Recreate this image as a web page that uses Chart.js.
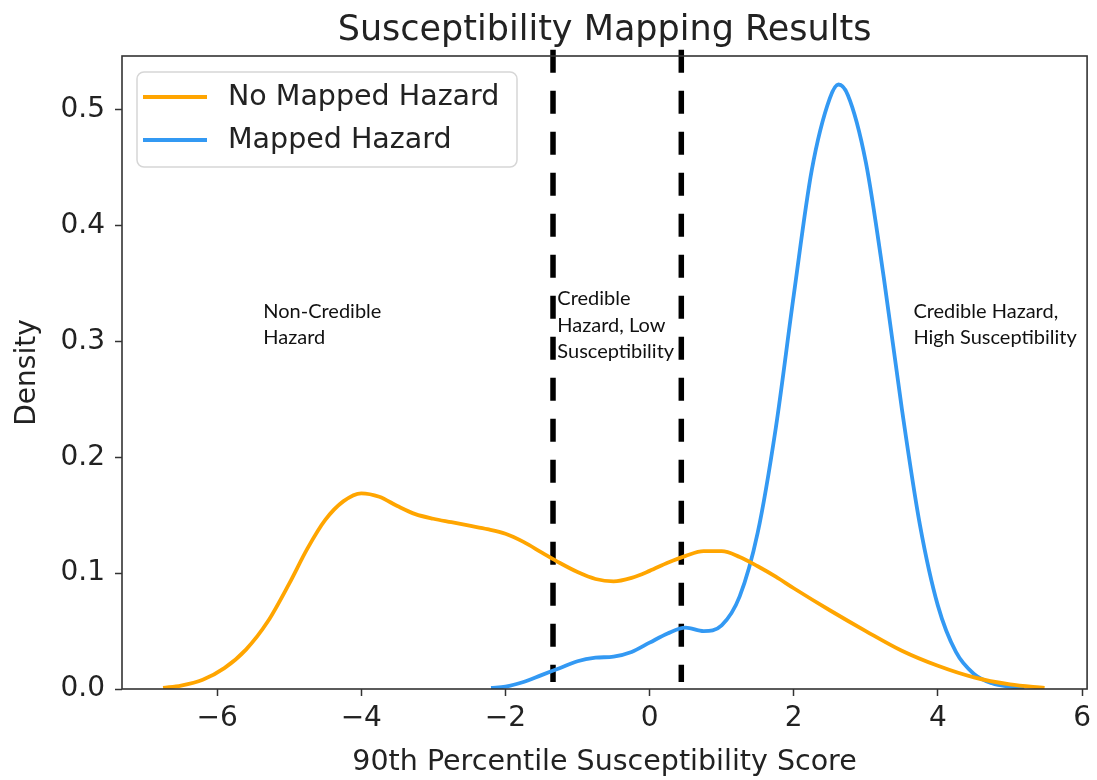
<!DOCTYPE html>
<html>
<head>
<meta charset="utf-8">
<title>Susceptibility Mapping Results</title>
<script src="https://cdn.jsdelivr.net/npm/chart.js@4/dist/chart.umd.min.js"></script>
<style>
  html, body { margin: 0; padding: 0; background: #fff; }
  canvas { display: block; }
</style>
</head>
<body>
<canvas id="kde" width="1097" height="780"></canvas>
<script>
// Density curves of the 90th percentile susceptibility score
const noHazardX = [-6.75, -6.5, -6.2, -5.9, -5.6, -5.3, -5.0, -4.75, -4.5, -4.25, -4.0, -3.75, -3.5, -3.25, -3.0, -2.75, -2.5, -2.25, -2.0, -1.75, -1.5, -1.25, -1.0, -0.75, -0.5, -0.25, 0.0, 0.25, 0.5, 0.75, 1.0, 1.25, 1.5, 1.75, 2.0, 2.5, 3.0, 3.5, 4.0, 4.5, 5.0, 5.48];
const noHazardY = [0.001, 0.003, 0.008, 0.018, 0.034, 0.058, 0.091, 0.121, 0.146, 0.162, 0.169, 0.166, 0.158, 0.151, 0.147, 0.144, 0.141, 0.138, 0.134, 0.127, 0.118, 0.109, 0.101, 0.095, 0.093, 0.096, 0.102, 0.109, 0.115, 0.119, 0.119, 0.114, 0.106, 0.097, 0.087, 0.068, 0.050, 0.033, 0.020, 0.010, 0.004, 0.001];

const hazardX = [-2.2, -2.0, -1.75, -1.5, -1.25, -1.0, -0.75, -0.5, -0.25, 0.0, 0.25, 0.5, 0.75, 1.0, 1.25, 1.5, 1.75, 2.0, 2.25, 2.5, 2.62, 2.75, 3.0, 3.25, 3.5, 3.75, 4.0, 4.25, 4.5, 4.75, 5.0, 5.2];
const hazardY = [0.001, 0.002, 0.006, 0.012, 0.018, 0.024, 0.027, 0.028, 0.032, 0.040, 0.048, 0.053, 0.050, 0.055, 0.080, 0.135, 0.225, 0.340, 0.448, 0.510, 0.522, 0.513, 0.455, 0.355, 0.242, 0.142, 0.072, 0.032, 0.013, 0.005, 0.002, 0.001];

// Class boundaries (score thresholds) and their vertical extent
const dividerX = [-1.34, 0.44];
const dividerSpan = [0.552, 0.006];

// Axis ticks and limits
const xTicks = [-6, -4, -2, 0, 2, 4, 6];
const yTicks = [0.0, 0.1, 0.2, 0.3, 0.4, 0.5];
const xLimits = [-7.32, 6.07];
const yLimits = [0, 0.5466];

// Class notes: anchor (score, density) and text lines
const notes = [
  { x: -5.36, y: 0.326, lines: ['Non-Credible', 'Hazard'] },
  { x: -1.28, y: 0.337, lines: ['Credible', 'Hazard, Low', 'Susceptibility'] },
  { x: 3.66, y: 0.326, lines: ['Credible Hazard,', 'High Susceptibility'] }
];

const seriesNames = ['No Mapped Hazard', 'Mapped Hazard'];
const seriesColors = ['#FFA500', '#3399F3'];

const toPoints = (xs, ys) => xs.map((v, i) => ({ x: v, y: ys[i] }));

const datasets = [
  {
    label: seriesNames[0],
    data: toPoints(noHazardX, noHazardY),
    borderColor: seriesColors[0],
    borderWidth: 3.8,
    pointRadius: 0,
    cubicInterpolationMode: 'monotone',
    fill: false
  },
  {
    label: seriesNames[1],
    data: toPoints(hazardX, hazardY),
    borderColor: seriesColors[1],
    borderWidth: 3.8,
    pointRadius: 0,
    cubicInterpolationMode: 'monotone',
    fill: false
  }
];
dividerX.forEach(v => {
  datasets.push({
    label: 'divider',
    data: dividerSpan.map(d => ({ x: v, y: d })),
    borderColor: '#000',
    borderWidth: 5.5,
    borderDash: [23, 18],
    borderCapStyle: 'butt',
    pointRadius: 0,
    tension: 0,
    clip: false,
    fill: false
  });
});

const overlay = {
  id: 'overlay',
  afterDatasetsDraw(chart) {
    const { ctx, chartArea: a, scales } = chart;
    ctx.save();

    // axes frame
    ctx.strokeStyle = '#333';
    ctx.lineWidth = 1.6;
    ctx.strokeRect(a.left, a.top, a.right - a.left, a.bottom - a.top);

    // class notes
    ctx.fillStyle = '#111';
    ctx.font = '20px Lato, "Open Sans", sans-serif';
    ctx.textAlign = 'left';
    ctx.textBaseline = 'middle';
    notes.forEach(n => {
      const px = scales.x.getPixelForValue(n.x);
      const py = scales.y.getPixelForValue(n.y);
      n.lines.forEach((t, i) => ctx.fillText(t, px, py + i * 26.5));
    });

    // legend
    const bx = a.left + 15, by = a.top + 16, bw = 380, bh = 95, r = 7;
    ctx.beginPath();
    ctx.moveTo(bx + r, by);
    ctx.arcTo(bx + bw, by, bx + bw, by + bh, r);
    ctx.arcTo(bx + bw, by + bh, bx, by + bh, r);
    ctx.arcTo(bx, by + bh, bx, by, r);
    ctx.arcTo(bx, by, bx + bw, by, r);
    ctx.closePath();
    ctx.fillStyle = 'rgba(255,255,255,0.85)';
    ctx.fill();
    ctx.strokeStyle = '#d6d6d6';
    ctx.lineWidth = 1.5;
    ctx.stroke();

    ctx.font = '28.5px "DejaVu Sans", sans-serif';
    ctx.fillStyle = '#222';
    [0, 1].forEach(i => {
      const ly = by + 25 + i * 43;
      ctx.beginPath();
      ctx.moveTo(bx + 6, ly);
      ctx.lineTo(bx + 70, ly);
      ctx.strokeStyle = chart.data.datasets[i].borderColor;
      ctx.lineWidth = 3.8;
      ctx.stroke();
      ctx.fillText(chart.data.datasets[i].label, bx + 91, ly + 1);
    });

    ctx.restore();
  }
};

const minus = v => (v < 0 ? '\u2212' + Math.abs(v) : String(v));

new Chart(document.getElementById('kde'), {
  type: 'line',
  data: { datasets },
  options: {
    responsive: false,
    animation: false,
    layout: { padding: { left: 0, right: 5, top: 0, bottom: 0 } },
    plugins: {
      legend: { display: false },
      tooltip: { enabled: false },
      title: {
        display: true,
        fullSize: false,
        text: 'Susceptibility Mapping Results',
        color: '#222',
        font: { family: '"DejaVu Sans", sans-serif', size: 35, weight: 'normal' },
        padding: { top: 10, bottom: 4 }
      }
    },
    scales: {
      x: {
        type: 'linear',
        min: xLimits[0],
        max: xLimits[1],
        afterBuildTicks: s => { s.ticks = xTicks.map(v => ({ value: v })); },
        afterFit: s => { s.height = 91; },
        border: { display: false },
        grid: { drawOnChartArea: false, drawTicks: true, tickLength: 7, tickWidth: 1.5, tickColor: '#333' },
        ticks: {
          padding: 6,
          color: '#222',
          font: { family: '"DejaVu Sans", sans-serif', size: 28 },
          callback: v => minus(v)
        },
        title: {
          display: true,
          text: '90th Percentile Susceptibility Score',
          color: '#222',
          font: { family: '"DejaVu Sans", sans-serif', size: 28.5 },
          padding: { top: 0, bottom: 0 }
        }
      },
      y: {
        type: 'linear',
        min: yLimits[0],
        max: yLimits[1],
        afterBuildTicks: s => { s.ticks = yTicks.map(v => ({ value: v })); },
        afterFit: s => { s.width = 122; },
        border: { display: false },
        grid: { drawOnChartArea: false, drawTicks: true, tickLength: 7, tickWidth: 1.5, tickColor: '#333' },
        ticks: {
          padding: 10,
          color: '#222',
          font: { family: '"DejaVu Sans", sans-serif', size: 28 },
          callback: v => v.toFixed(1)
        },
        title: {
          display: true,
          text: 'Density',
          color: '#222',
          font: { family: '"DejaVu Sans", sans-serif', size: 28 },
          padding: { top: 11, bottom: 0 }
        }
      }
    }
  },
  plugins: [overlay]
});
</script>
</body>
</html>
